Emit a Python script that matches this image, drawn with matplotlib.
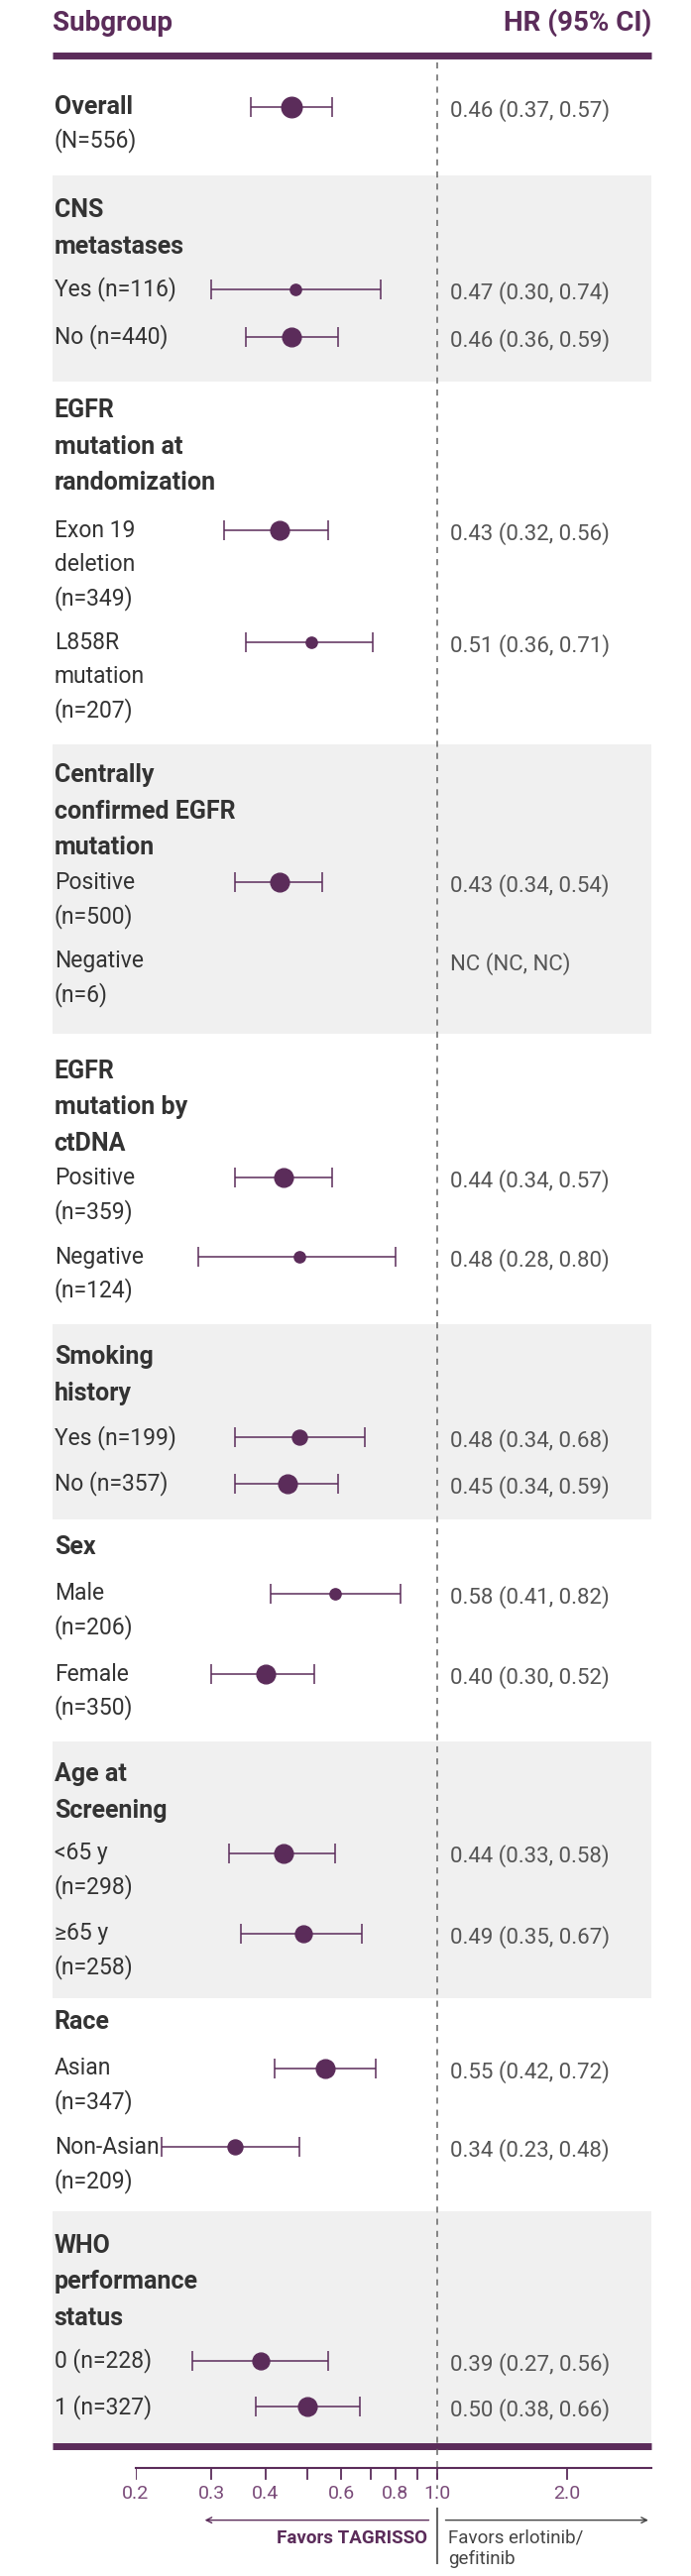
import numpy as np
import matplotlib
matplotlib.use("Agg")
import matplotlib.pyplot as plt

FAM = ['Roboto', 'DejaVu Sans']
plt.rcParams['font.family'] = FAM
PUR = '#5b2c5a'; TXT = '#333333'; HRC = '#555555'; BG = '#f0f0f0'

# data
row_labels = ["Overall\n(N=556)", "Yes (n=116)", "No (n=440)", "Exon 19\ndeletion\n(n=349)",
              "L858R\nmutation\n(n=207)", "Positive\n(n=500)", "Negative\n(n=6)", "Positive\n(n=359)",
              "Negative\n(n=124)", "Yes (n=199)", "No (n=357)", "Male\n(n=206)", "Female\n(n=350)",
              "<65 y\n(n=298)", "≥65 y\n(n=258)", "Asian\n(n=347)", "Non-Asian\n(n=209)",
              "0 (n=228)", "1 (n=327)"]
hr = [0.46, 0.47, 0.46, 0.43, 0.51, 0.43, np.nan, 0.44, 0.48, 0.48, 0.45, 0.58, 0.40, 0.44, 0.49, 0.55, 0.34, 0.39, 0.50]
lo = [0.37, 0.30, 0.36, 0.32, 0.36, 0.34, np.nan, 0.34, 0.28, 0.34, 0.34, 0.41, 0.30, 0.33, 0.35, 0.42, 0.23, 0.27, 0.38]
hi = [0.57, 0.74, 0.59, 0.56, 0.71, 0.54, np.nan, 0.57, 0.80, 0.68, 0.59, 0.82, 0.52, 0.58, 0.67, 0.72, 0.48, 0.56, 0.66]
hr_text = ["0.46 (0.37, 0.57)", "0.47 (0.30, 0.74)", "0.46 (0.36, 0.59)", "0.43 (0.32, 0.56)",
           "0.51 (0.36, 0.71)", "0.43 (0.34, 0.54)", "NC (NC, NC)", "0.44 (0.34, 0.57)",
           "0.48 (0.28, 0.80)", "0.48 (0.34, 0.68)", "0.45 (0.34, 0.59)", "0.58 (0.41, 0.82)",
           "0.40 (0.30, 0.52)", "0.44 (0.33, 0.58)", "0.49 (0.35, 0.67)", "0.55 (0.42, 0.72)",
           "0.34 (0.23, 0.48)", "0.39 (0.27, 0.56)", "0.50 (0.38, 0.66)"]
marker_size = [11, 6, 10, 10, 6, 10, 0, 10, 6, 8, 10, 6, 10, 10, 9, 10, 8, 9, 10]
group_titles = ["CNS\nmetastases", "EGFR\nmutation at\nrandomization", "Centrally\nconfirmed EGFR\nmutation",
                "EGFR\nmutation by\nctDNA", "Smoking\nhistory", "Sex", "Age at\nScreening", "Race",
                "WHO\nperformance\nstatus"]
tick_vals = [0.2, 0.3, 0.4, 0.5, 0.6, 0.7, 0.8, 0.9, 1.0, 2.0]
tick_labels = ["0.2", "0.3", "0.4", "", "0.6", "", "0.8", "", "1.0", "2.0"]

# layout (reference display pixel units, 433 x 1568)
W, H = 433, 1568
row_y = [65, 176, 205, 323, 391, 537, 585, 717, 765, 875, 903, 970, 1019, 1128, 1177, 1259, 1307, 1437, 1465]
title_y = [128, 250, 472, 652, 826, 942, 1080, 1231, 1367]
bands = [(107, 232), (453, 629), (806, 925), (1060, 1216), (1346, 1488)]

fig = plt.figure(figsize=(6.97, 25.99), dpi=100)
bg = fig.add_axes([0, 0, 1, 1]); bg.set_xlim(0, W); bg.set_ylim(H, 0); bg.axis('off')
for a, b in bands:
    bg.add_patch(plt.Rectangle((33, a), 375, b - a, color=BG, lw=0, zorder=0))
bg.plot([33, 408], [34, 34], color=PUR, lw=5, solid_capstyle='butt')
bg.plot([33, 408], [1489, 1489], color=PUR, lw=5, solid_capstyle='butt')
bg.text(33, 14, "Subgroup", color=PUR, fontsize=20, fontweight='bold', va='center')
bg.text(408, 14, "HR (95% CI)", color=PUR, fontsize=20, fontweight='bold', va='center', ha='right')
LS = 20.5
for i, (lab, y) in enumerate(zip(row_labels, row_y)):
    lines = lab.split("\n")
    for k, ln in enumerate(lines):
        bold = (i == 0 and k == 0)
        bg.text(34, y + k * LS, ln, color=TXT, fontsize=18 if bold else 16.5,
                fontweight='bold' if bold else 'normal', va='center')
    bg.text(282, y + 2, hr_text[i], color=HRC, fontsize=16, va='center')
for t, y in zip(group_titles, title_y):
    for k, ln in enumerate(t.split("\n")):
        bg.text(34, y + k * 22, ln, color=TXT, fontsize=18, fontweight='bold', va='center')

# forest axes
x0, x1 = 85, 408
ax = fig.add_axes([x0 / W, 0, (x1 - x0) / W, 1])
ax.set_xscale('log')
per = (274 - 85) / np.log(1 / 0.2)
xmax = np.exp((408 - 274) / per)
ax.set_xlim(0.2, xmax); ax.set_ylim(H, 0); ax.axis('off'); ax.patch.set_alpha(0)
ax.plot([1, 1], [38, 1515], color='#666666', lw=1.1, ls=(0, (4, 4)))
for i, y in enumerate(row_y):
    if np.isnan(hr[i]):
        continue
    ax.errorbar(hr[i], y, xerr=[[hr[i] - lo[i]], [hi[i] - hr[i]]], fmt='none', ecolor=PUR,
                elinewidth=1.1, capsize=7, capthick=1.1)
    ax.plot(hr[i], y, 'o', color=PUR, ms=marker_size[i] * 1.35, zorder=3)
# axis
ax.plot([0.2, xmax], [1502, 1502], color=PUR, lw=1.5, clip_on=False)
for v, l in zip(tick_vals, tick_labels):
    ax.plot([v, v], [1502, 1509], color=PUR, lw=1.3)
    if l:
        ax.text(v, 1518, l, color='#7a4b79', fontsize=14, ha='center', va='center')
ax.annotate("", xy=(0.285, 1534), xytext=(0.97, 1534),
            arrowprops=dict(arrowstyle='->', color=PUR, lw=1))
ax.annotate("", xy=(xmax, 1534), xytext=(1.03, 1534),
            arrowprops=dict(arrowstyle='->', color='#444444', lw=1))
ax.plot([1, 1], [1527, 1560], color='#666666', lw=1.5)
ax.text(0.95, 1545, "Favors TAGRISSO", color=PUR, fontsize=13.5, fontweight='bold', ha='right', va='center')
ax.text(1.06, 1545, "Favors erlotinib/", color='#444444', fontsize=13.5, ha='left', va='center')
ax.text(1.06, 1558, "gefitinib", color='#444444', fontsize=13.5, ha='left', va='center')

fig.savefig("out.png", dpi=100)
